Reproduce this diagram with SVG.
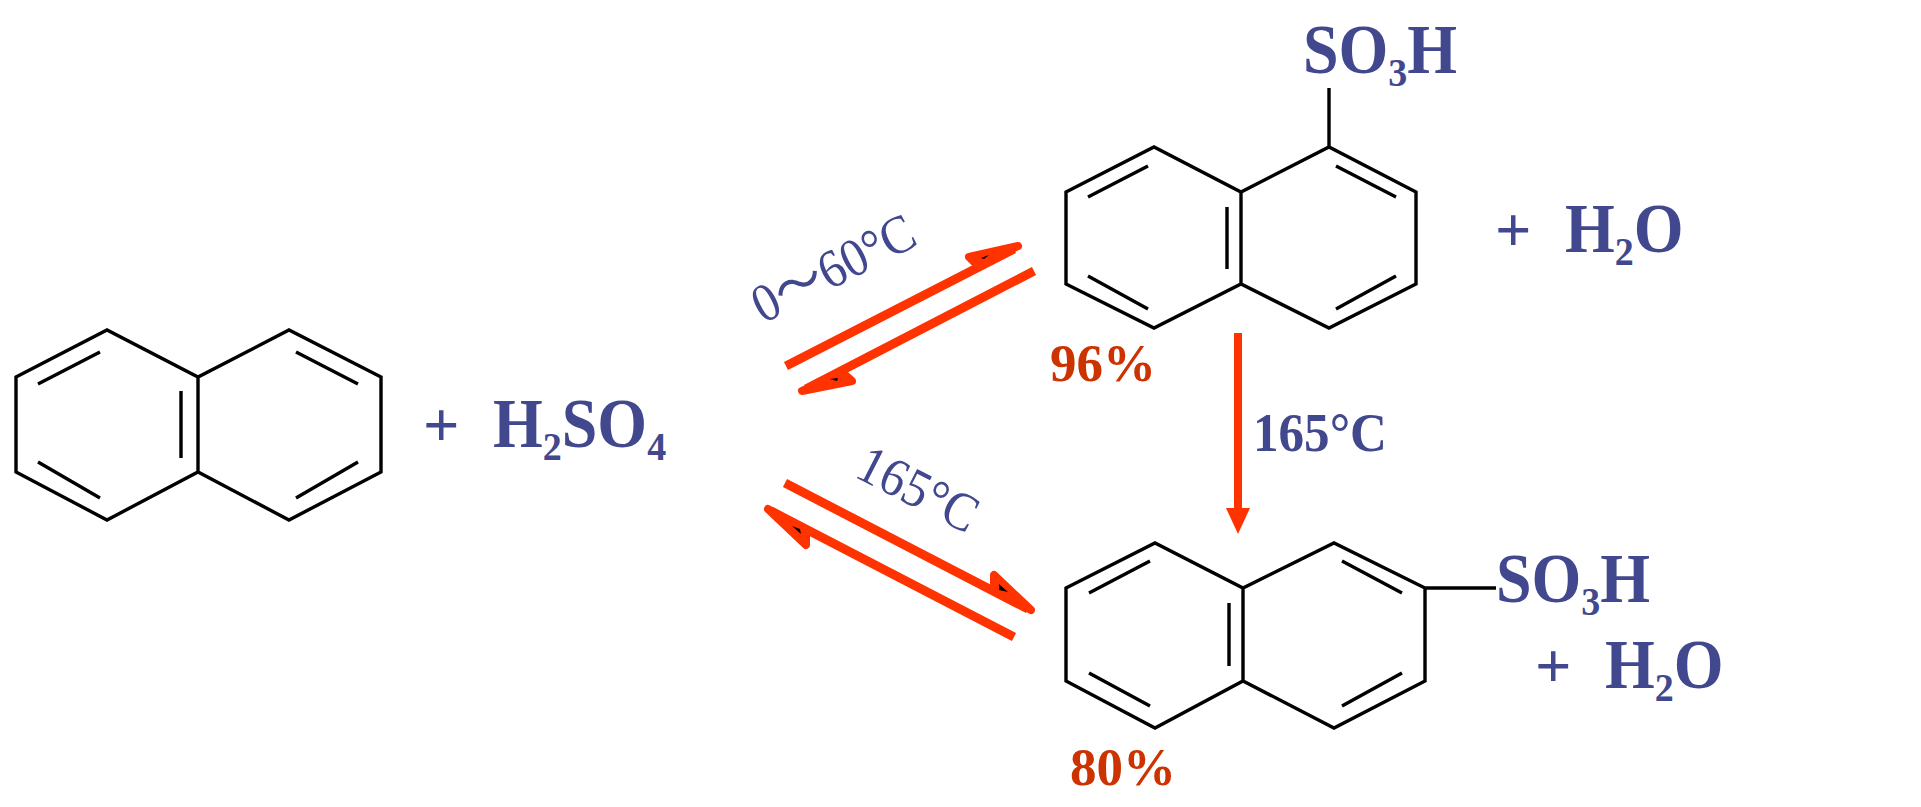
<svg xmlns="http://www.w3.org/2000/svg" width="1921" height="807" viewBox="0 0 1921 807">
<style>
.bond{fill:none;stroke:#000;stroke-width:3.4;stroke-linejoin:miter;stroke-linecap:butt}
.t{font-family:"Liberation Serif","Noto Sans CJK SC",serif;fill:#42488e}
.f{font-size:64px;font-weight:bold}
.s{font-size:38px;font-weight:bold}
.y{font-family:"Liberation Serif",serif;font-size:53px;font-weight:bold;fill:#cc3300}
.b{font-size:51px;font-weight:bold}
.r{font-size:54px}
.arr{fill:none;stroke:#ff3300;stroke-width:9}
.head{fill:#ff3300;stroke:#ff3300;stroke-width:8;stroke-linejoin:round}
.fleck{fill:#000}
</style>
<rect width="1921" height="807" fill="#fff"/>
<g id="naphthalene"><path class="bond" d="M16 377 L107 330 L198 377 L289 330 L381 377 V472 L289 520 L198 472 L107 520 L16 472 Z M198 377 V472 M38 384 L100 352 M38 462 L100 498 M181 391 V458 M296 352 L358 384 M358 462 L296 498"/></g>
<g id="h2so4"><text class="t f" x="423" y="446">+</text><text class="t f" transform="translate(493 447) scale(1 1.08)">H<tspan class="s" dy="12">2</tspan><tspan dy="-12">SO</tspan><tspan class="s" dy="12">4</tspan></text></g>
<g id="alpha-acid"><path class="bond" d="M1066 192 L1154 147 L1241 192 L1329 147 L1416 192 V284 L1329 328 L1241 284 L1154 328 L1066 284 Z M1241 192 V284 M1088 197 L1148 166 M1088 276 L1148 309 M1227 207 V269 M1336 166 L1396 197 M1396 276 L1336 309 M1329 147 V88"/>
<text class="t f" transform="translate(1303 73) scale(1 1.08)">SO<tspan class="s" dy="12">3</tspan><tspan dy="-12">H</tspan></text>
<text class="t f" x="1495" y="251">+</text><text class="t f" transform="translate(1565 252) scale(1 1.08)">H<tspan class="s" dy="12">2</tspan><tspan dy="-12">O</tspan></text>
<text class="y" x="1050" y="381">96%</text></g>
<g id="beta-acid"><path class="bond" d="M1066 588 L1155 543 L1243 588 L1334 543 L1425 588 V681 L1334 728 L1243 681 L1155 728 L1066 681 Z M1243 588 V681 M1089 593 L1150 561 M1089 673 L1150 706 M1229 603 V666 M1342 561 L1402 593 M1402 673 L1342 706 M1425 588 H1496"/>
<text class="t f" transform="translate(1496 602) scale(1 1.08)">SO<tspan class="s" dy="12">3</tspan><tspan dy="-12">H</tspan></text>
<text class="t f" x="1535" y="687">+</text><text class="t f" transform="translate(1605 688) scale(1 1.08)">H<tspan class="s" dy="12">2</tspan><tspan dy="-12">O</tspan></text>
<text class="y" x="1070" y="785">80%</text></g>
<g id="connectors">
<path class="arr" d="M786 366 L1014 249"/><path class="head" d="M1018 246 L969 257 L977 265 Z"/><path class="fleck" d="M981 258 L989 255 L984 259 Z"/>
<path class="arr" d="M1034 271 L806 389"/><path class="head" d="M802 391 L852 381 L843 373 Z"/><path class="fleck" d="M830 379 L838 378 L837 381 Z"/>
<path class="arr" d="M785 483 L1028 609"/><path class="head" d="M1031 610 L994 575 L994 590 Z"/><path class="fleck" d="M999 584 L1008 592 L999 590 Z"/>
<path class="arr" d="M1014 637 L771 511"/><path class="head" d="M768 509 L806 545 L806 530 Z"/><path class="fleck" d="M792 526 L800 529 L801 534 Z"/>
<path d="M1238 333 V512" fill="none" stroke="#ff3300" stroke-width="8"/><path d="M1226 508 H1250 L1238 534 Z" fill="#ff3300"/>
</g>
<g id="conditions">
<text class="t b" transform="translate(1253 451) scale(1 1.08)" textLength="134" lengthAdjust="spacingAndGlyphs">165°C</text>
<text class="t r" transform="translate(763 324) rotate(-27)" textLength="176" lengthAdjust="spacingAndGlyphs">0～60°C</text>
<text class="t r" transform="translate(853 476) rotate(27)" textLength="128" lengthAdjust="spacingAndGlyphs">165°C</text>
</g>
</svg>
